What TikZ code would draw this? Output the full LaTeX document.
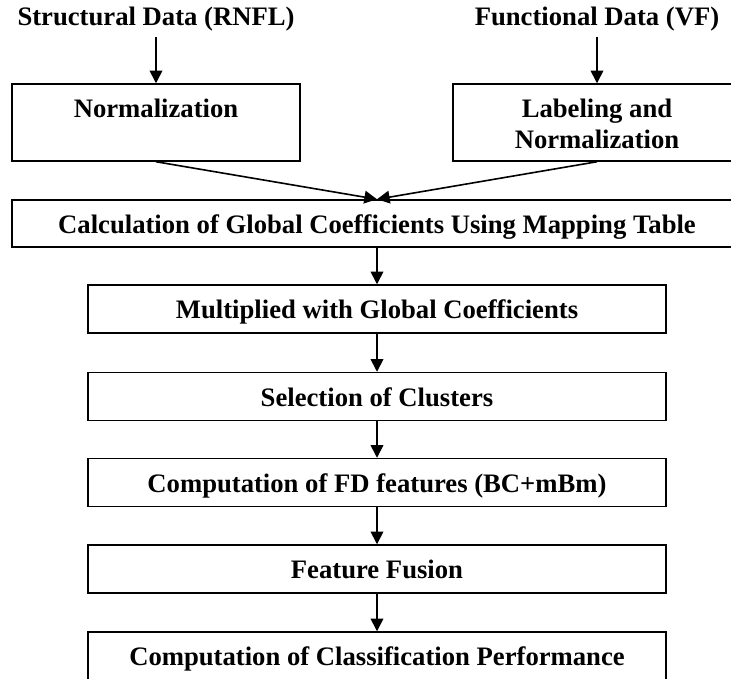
\documentclass[tikz,border=0pt]{standalone}
\usepackage{fontspec}
\setmainfont{Liberation Serif}
\usetikzlibrary{arrows.meta}

\tikzset{every picture/.style={line width=0.75pt}}
\tikzset{
  txt/.style={inner sep=0.75pt, font=\bfseries\fontsize{20}{23.25}\selectfont},
  box/.style={draw, line width=1.1pt, inner sep=0pt, align=center, text height=16pt, text depth=1.5pt, font=\bfseries\fontsize{20}{23.25}\selectfont},
  twoline/.style={text height=39.25pt, text depth=0.75pt},
  flow/.style={line width=1.2pt, -{Triangle[length=9.5pt,width=9.5pt]}}
}

\begin{document}
\begin{tikzpicture}[x=0.75pt,y=0.75pt,yscale=-1,xscale=1]
        \useasboundingbox (0,0) rectangle (731,678);

        % Text Node
        \node (rnfl) [txt] at (156,19) {Structural Data (RNFL)};
        % Text Node
        \node (vf) [txt] at (597,19) {Functional Data (VF)};

        %Shape: Rectangle [id:norm]
        \node (norm) [box, twoline, minimum width=216pt, minimum height=57.75pt] at (156,122.5) {Normalization\\\mbox{}};
        %Shape: Rectangle [id:lab]
        \node (lab) [box, twoline, minimum width=216pt, minimum height=57.75pt] at (597,122.5) {Labeling and\\Normalization};
        %Shape: Rectangle [id:calc]
        \node (calc) [box, minimum width=547.5pt, minimum height=35.25pt] at (377,223.5) {Calculation of Global Coefficients Using Mapping Table};
        %Shape: Rectangle [id:mult]
        \node (mult) [box, minimum width=433.5pt, minimum height=36pt] at (377,309) {Multiplied with Global Coefficients};
        %Shape: Rectangle [id:sel]
        \node (sel) [box, minimum width=433.5pt, minimum height=36pt] at (377,396.5) {Selection of Clusters};
        %Shape: Rectangle [id:fd]
        \node (fd) [box, minimum width=433.5pt, minimum height=36pt] at (377,482.5) {Computation of FD features (BC+mBm)};
        %Shape: Rectangle [id:fus]
        \node (fus) [box, minimum width=433.5pt, minimum height=36pt] at (377,569) {Feature Fusion};
        %Shape: Rectangle [id:perf]
        \node (perf) [box, minimum width=433.5pt, minimum height=36pt] at (377,656) {Computation of Classification Performance};

        %Straight Lines
        \draw [flow] (rnfl.south) ++(0,4) -- (norm.north);
        \draw [flow] (vf.south) ++(0,4) -- (lab.north);
        \draw [flow] (norm.south) -- (calc.north);
        \draw [flow] (lab.south) -- (calc.north);
        \draw [flow] (calc) -- (mult);
        \draw [flow] (mult) -- (sel);
        \draw [flow] (sel) -- (fd);
        \draw [flow] (fd) -- (fus);
        \draw [flow] (fus) -- (perf);
\end{tikzpicture}
\end{document}
